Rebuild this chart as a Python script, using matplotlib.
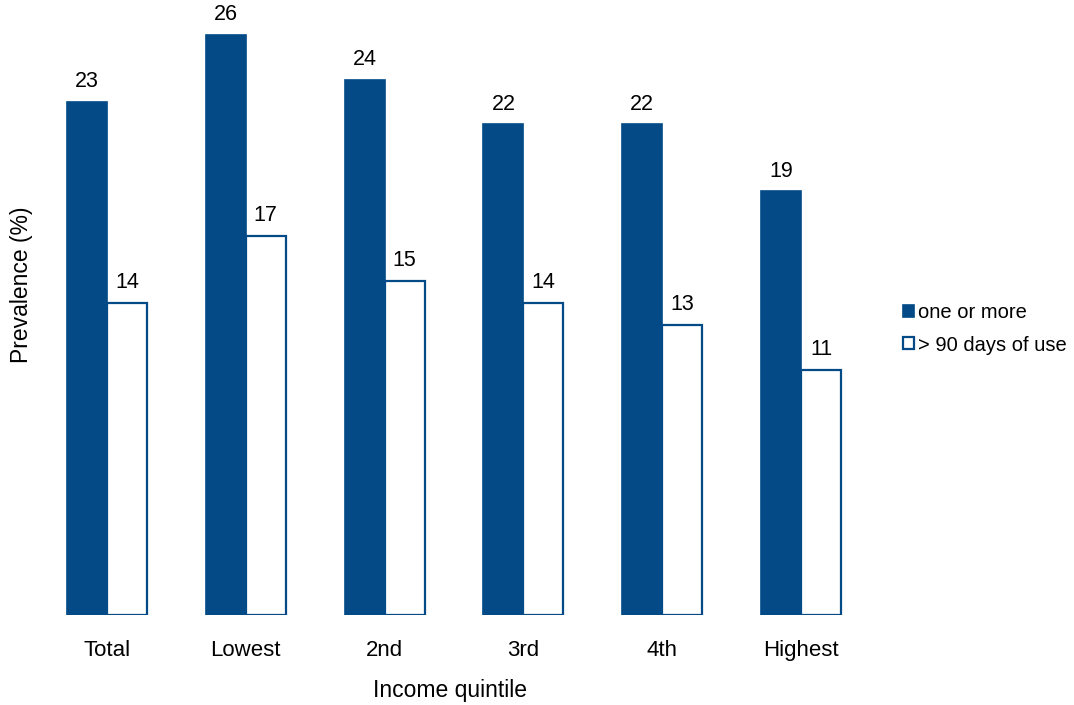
import matplotlib
matplotlib.use("Agg")
import matplotlib.pyplot as plt
import numpy as np

categories = ["Total", "Lowest", "2nd", "3rd", "4th", "Highest"]
one_or_more = [23, 26, 24, 22, 22, 19]
over_90_days = [14, 17, 15, 14, 13, 11]
series_labels = ["one or more", "> 90 days of use"]

BLUE = "#034a87"
plt.rcParams["font.family"] = ["Liberation Sans", "DejaVu Sans"]

W, H = 1074, 705
fig = plt.figure(figsize=(W / 100, H / 100), dpi=100)

# axes placed in pixel terms: x from 40 to 880, y from 20 to 615
ax_left, ax_right, ax_top, ax_bottom = 40, 880, 20, 615
ax = fig.add_axes([ax_left / W, 1 - ax_bottom / H,
                   (ax_right - ax_left) / W, (ax_bottom - ax_top) / H])

group_px = 138.8
first_center = 107
bar_w = 40 / group_px
x = np.arange(len(categories))

ax.set_xlim((ax_left - first_center) / group_px, (ax_right - first_center) / group_px)
ax.set_ylim(0, (ax_bottom - ax_top) / 22.3)

b1 = ax.bar(x - bar_w / 2, one_or_more, bar_w, color=BLUE, edgecolor=BLUE,
            linewidth=1.2, label=series_labels[0])
b2 = ax.bar(x + bar_w / 2, over_90_days, bar_w, color="white", edgecolor=BLUE,
            linewidth=1.6, label=series_labels[1])

for bars, vals in ((b1, one_or_more), (b2, over_90_days)):
    for r, v in zip(bars, vals):
        ax.annotate(f"{v}", (r.get_x() + r.get_width() / 2, v),
                    xytext=(0, 7), textcoords="offset points",
                    ha="center", va="bottom", fontsize=15.5)

for s in ax.spines.values():
    s.set_visible(False)
ax.set_yticks([])
ax.set_xticks(x)
ax.set_xticklabels(categories, fontsize=16)
ax.tick_params(axis="x", length=0, pad=18)

fig.text(450 / W, 1 - 690 / H, "Income quintile", fontsize=16.5,
         ha="center", va="center")
fig.text(22 / W, 1 - 285 / H, "Prevalence (%)", rotation=90, fontsize=16.5,
         ha="center", va="center")

fig.legend(handles=[b1, b2], labels=series_labels, frameon=False,
           loc="center left", bbox_to_anchor=(895 / W, 1 - 329 / H),
           fontsize=14.5, handlelength=0.55, handleheight=0.55,
           handletextpad=0.2, labelspacing=0.65, borderaxespad=0)

fig.savefig("out.png", dpi=100, facecolor="white")
